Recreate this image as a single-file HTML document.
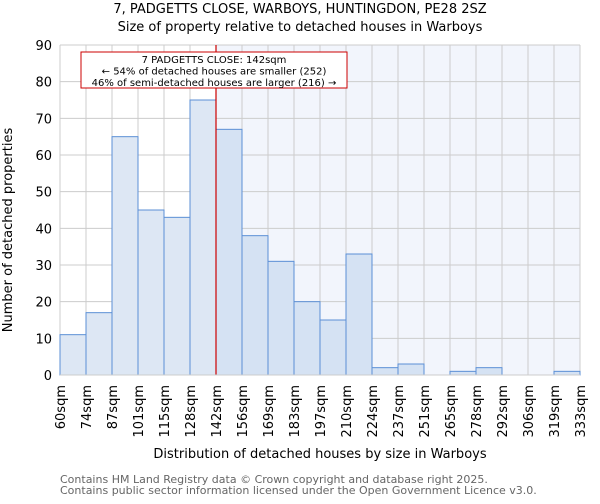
<!DOCTYPE html>
<html><head><meta charset="utf-8"><style>
body{margin:0;background:#fff;font-family:"DejaVu Sans","Liberation Sans",sans-serif}
</style></head><body>
<svg id="c" width="600" height="500" xmlns="http://www.w3.org/2000/svg" font-family="DejaVu Sans, Liberation Sans, sans-serif">
<text x="300" y="13" text-anchor="middle" font-size="13">7, PADGETTS CLOSE, WARBOYS, HUNTINGDON, PE28 2SZ</text>
<text x="300" y="31" text-anchor="middle" font-size="13">Size of property relative to detached houses in Warboys</text>
<g id="plot"></g>
<text x="320" y="458" text-anchor="middle" font-size="13">Distribution of detached houses by size in Warboys</text>
<text transform="translate(12,230) rotate(-90)" text-anchor="middle" font-size="13">Number of detached properties</text>
<text x="60" y="483" font-size="11" fill="#666">Contains HM Land Registry data © Crown copyright and database right 2025.</text>
<text x="60" y="494" font-size="11" fill="#666">Contains public sector information licensed under the Open Government Licence v3.0.</text>
</svg>
<script>
const categories=["60sqm","74sqm","87sqm","101sqm","115sqm","128sqm","142sqm","156sqm","169sqm","183sqm","197sqm","210sqm","224sqm","237sqm","251sqm","265sqm","278sqm","292sqm","306sqm","319sqm","333sqm"];
const counts=[11,17,65,45,43,75,67,38,31,20,15,33,2,3,0,1,2,0,0,1];
const yTicks=[0,10,20,30,40,50,60,70,80,90];
const markerIndex=6;
const NS="http://www.w3.org/2000/svg";
const L=60,R=580,T=45,B=375,yMax=90;
const n=counts.length;
const xs=i=>L+(R-L)*i/n;
const ys=v=>B-(B-T)*v/yMax;
const g=document.getElementById('plot');
function mk(t,a){const e=document.createElementNS(NS,t);for(const k in a)e.setAttribute(k,a[k]);g.appendChild(e);return e;}
let e=mk('rect',{x:xs(markerIndex),y:T,width:R-xs(markerIndex),height:B-T,fill:'#f2f5fc'});


yTicks.forEach(v=>{
 let l=mk('line',{x1:L,x2:R,y1:ys(v),y2:ys(v),stroke:'#ccc'});
 
 
 let t=mk('text',{x:L-8,y:ys(v)+5,'text-anchor':'end','font-size':13});
 t.textContent=v;
 
 
});
categories.forEach((c,i)=>{
 let l=mk('line',{x1:xs(i),x2:xs(i),y1:T,y2:B,stroke:'#ccc'});
 
 
 let t=mk('text',{transform:`translate(${xs(i)+5},${B+10}) rotate(-90)`,'text-anchor':'end','font-size':13});
 t.textContent=c;
 
 
});
counts.forEach((v,i)=>{
 let r=mk('rect',{x:xs(i),y:ys(v),width:xs(i+1)-xs(i),height:B-ys(v),fill:i<markerIndex?'#dde7f4':'#d5e2f3',stroke:'#5b8fd6','stroke-width':1});
 
 
});
e=mk('line',{x1:xs(markerIndex),x2:xs(markerIndex),y1:T,y2:B,stroke:'#cc0000','stroke-width':1.2});


e=mk('line',{x1:L,x2:R,y1:B,y2:B,stroke:'#ccc'});


e=mk('rect',{x:81,y:52,width:266,height:36,fill:'#fff',stroke:'#cc0000'});


["7 PADGETTS CLOSE: 142sqm","← 54% of detached houses are smaller (252)","46% of semi-detached houses are larger (216) →"].forEach((s,k)=>{
 let t=mk('text',{x:214,y:63+k*11.5,'text-anchor':'middle','font-size':10});
 t.textContent=s;
 
 
});
</script>
</body></html>
